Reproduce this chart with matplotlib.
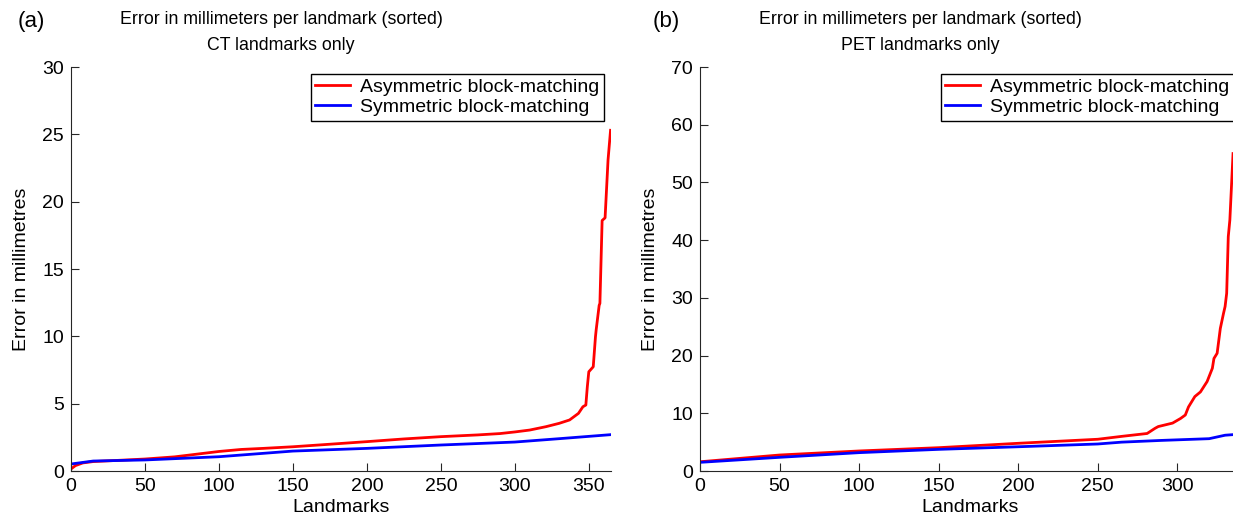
import matplotlib
matplotlib.use("Agg")
from matplotlib import pyplot as plt
import numpy as np

plt.rcParams['font.family'] = ['Liberation Sans', 'DejaVu Sans']

# (a) CT landmarks
ct_asym_x = [0, 3, 8, 15, 30, 50, 70, 85, 100, 115, 130, 150, 170, 200, 225, 250, 275, 290,
             300, 310, 321, 330, 337, 343, 346, 348, 349, 350, 353, 354.5, 355, 357, 357.5,
             359, 361, 363, 364.7]
ct_asym_y = [0.15, 0.4, 0.6, 0.7, 0.78, 0.89, 1.05, 1.25, 1.45, 1.6, 1.68, 1.8, 1.95, 2.18,
             2.38, 2.55, 2.68, 2.78, 2.9, 3.04, 3.29, 3.54, 3.79, 4.28, 4.77, 4.9, 6.26, 7.37,
             7.74, 9.97, 10.5, 12.3, 12.45, 18.6, 18.8, 23.1, 25.3]
ct_sym_x = [0, 15, 50, 100, 150, 200, 250, 300, 330, 365]
ct_sym_y = [0.52, 0.74, 0.82, 1.06, 1.48, 1.68, 1.93, 2.15, 2.4, 2.7]

# (b) PET landmarks
pet_asym_x = [0, 50, 100, 150, 200, 250, 265, 281, 286, 288, 297, 302, 305, 307, 311, 314.5,
              318.7, 322, 323, 325, 327, 329, 330, 331, 332, 333, 335]
pet_asym_y = [1.6, 2.77, 3.47, 4.04, 4.8, 5.5, 6.0, 6.5, 7.4, 7.7, 8.3, 9.1, 9.7, 11.1, 12.9,
              13.7, 15.5, 17.8, 19.5, 20.4, 24.7, 27.3, 28.5, 30.8, 40.6, 43.5, 55.0]
pet_sym_x = [0, 50, 100, 150, 200, 250, 265, 290, 310, 320, 325, 330, 335]
pet_sym_y = [1.5, 2.37, 3.18, 3.75, 4.2, 4.68, 5.0, 5.3, 5.5, 5.6, 5.9, 6.2, 6.3]

W, H = 1233, 521

# right panel runs past the right edge of the picture (cropped like the original)
panels = [
    dict(tag='(a)', sub='CT landmarks only', ax=[71 / W, 50 / H, 540 / W, 404 / H],
         ax_x=ct_asym_x, ay=ct_asym_y, sx=ct_sym_x, sy=ct_sym_y,
         xlim=365, ylim=30, ystep=5, tx=281, tagx=31),
    dict(tag='(b)', sub='PET landmarks only', ax=[700 / W, 50 / H, 541 / W, 404 / H],
         ax_x=pet_asym_x, ay=pet_asym_y, sx=pet_sym_x, sy=pet_sym_y,
         xlim=340, ylim=70, ystep=10, tx=920, tagx=666),
]

fig = plt.figure(figsize=(W / 100, H / 100), dpi=100)
fs = 14

for p in panels:
    ax = fig.add_axes(p['ax'])
    ax.plot(p['ax_x'], p['ay'], color='#ff0000', lw=2, label='Asymmetric block-matching')
    ax.plot(p['sx'], p['sy'], color='#0000ff', lw=2, label='Symmetric block-matching')
    ax.set_xlim(0, p['xlim'])
    ax.set_ylim(0, p['ylim'])
    ax.set_xticks(np.arange(0, p['xlim'] + 1, 50))
    ax.set_yticks(np.arange(0, p['ylim'] + 1, p['ystep']))
    ax.spines['top'].set_visible(False)
    ax.spines['right'].set_visible(False)
    for s in ['left', 'bottom']:
        ax.spines[s].set_color('#262626')
    ax.tick_params(direction='in', length=6, labelsize=fs, colors='#262626',
                   labelcolor='black', pad=5)
    ax.set_xlabel('Landmarks', fontsize=fs, labelpad=3)
    ax.set_ylabel('Error in millimetres', fontsize=fs, labelpad=9)
    leg = ax.legend(loc='upper right', fontsize=fs, fancybox=False, framealpha=1,
                    edgecolor='black', borderpad=0.25, handlelength=1.8,
                    labelspacing=0.12, borderaxespad=0.35, handletextpad=0.5)
    leg.get_frame().set_linewidth(1)
    fig.text(p['tx'] / W, 1 - 19 / H, 'Error in millimeters per landmark (sorted)',
             ha='center', va='center', fontsize=12.8)
    fig.text(p['tx'] / W, 1 - 45 / H, p['sub'], ha='center', va='center', fontsize=12.8)
    fig.text(p['tagx'] / W, 1 - 22 / H, p['tag'], ha='center', va='center', fontsize=16)

fig.savefig('out.png', dpi=100)
